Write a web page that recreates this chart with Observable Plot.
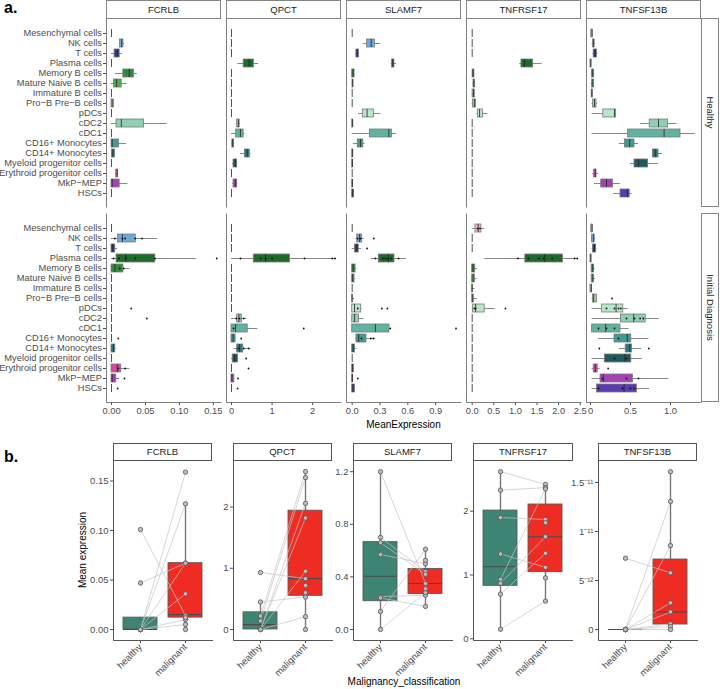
<!DOCTYPE html>
<html><head><meta charset="utf-8">
<script src="https://cdn.jsdelivr.net/npm/d3@7"></script>
<script src="https://cdn.jsdelivr.net/npm/@observablehq/plot@0.6"></script>
<style>
body{margin:0;background:#fff;font-family:"Liberation Sans",Arial,sans-serif;}
#root{position:relative;width:720px;height:689px;overflow:hidden;background:#fff;}
.strip{position:absolute;box-sizing:border-box;border:1px solid #858585;background:#fff;font-size:9.5px;color:#1a1a1a;display:flex;align-items:center;justify-content:center;white-space:nowrap;}
.vtxt{transform:rotate(90deg);white-space:nowrap;}
.lbl{position:absolute;font-weight:bold;font-size:16px;color:#000;}
.title{position:absolute;font-size:10px;color:#000;white-space:nowrap;}
</style></head>
<body><div id="root"></div>
<script>
// ---------------- DATA ----------------
const cells = ["Mesenchymal cells","NK cells","T cells","Plasma cells","Memory B cells","Mature Naive B cells","Immature B cells","Pro−B Pre−B cells","pDCs","cDC2","cDC1","CD16+ Monocytes","CD14+ Monocytes","Myeloid progenitor cells","Erythroid progenitor cells","MkP−MEP","HSCs"];
const cellColors = ["#f2b5cc","#6fa8dc","#27408b","#1d6b2a","#2e8b3e","#45b24f","#7cc576","#95d98f","#b9e5c9","#8fcfb3","#5fb3a0","#3f9b94","#2c7b7c","#1f5a5e","#d9489f","#a640b5","#5a3bb0"];
const genes = ["FCRLB","QPCT","SLAMF7","TNFRSF17","TNFSF13B"];
const conditions = ["Healthy","Initial Diagnosis"];

// box statistics per cell type: [lower whisker, q1, median, q3, upper whisker]
const Z = [0,0,0,0,0];
const fcrlbHealthy = [Z,[0.012,0.0125,0.015,0.0175,0.019],[0,0.0045,0.0085,0.012,0.016],Z,[0.006,0.0174,0.026,0.033,0.038],[0,0.0035,0.0074,0.015,0.023],Z,[0,0,0.001,0.0035,0.0035],Z,[0,0.0074,0.0144,0.048,0.082],Z,[0,0,0.001,0.011,0.022],[0,0.0005,0.002,0.005,0.006],Z,[0.006,0.007,0.0085,0.009,0.0095],[0,0,0.001,0.012,0.024],Z];
const fcrlbInitial = [Z,[0,0.0094,0.016,0.0357,0.068],[0,0,0.002,0.0055,0.0088],[0,0.0074,0.021,0.0645,0.125],[0,0,0.005,0.0175,0.027],Z,Z,Z,Z,Z,Z,Z,[0,0,0.003,0.0055,0.007],Z,[0,0,0.0085,0.0143,0.027],[0,0,0.001,0.007,0.012],Z];
const qpctHealthy = [Z,Z,Z,[0.155,0.30,0.43,0.55,0.67],Z,Z,Z,Z,Z,[0.12,0.14,0.17,0.2,0.22],[0,0.115,0.22,0.30,0.33],[0.01,0.02,0.03,0.06,0.07],[0.22,0.33,0.39,0.45,0.48],[0.03,0.05,0.1,0.14,0.15],Z,[0.03,0.05,0.1,0.14,0.15],Z];
const qpctInitial = [Z,Z,Z,[0,0.55,0.84,1.44,2.59],Z,Z,Z,Z,Z,[0,0.14,0.18,0.26,0.38],[0,0,0.10,0.40,0.65],[0,0,0.04,0.1,0.12],[0.06,0.14,0.20,0.29,0.48],[0,0.03,0.08,0.16,0.18],Z,[0,0,0.01,0.07,0.08],Z];
const slamf7Healthy = [Z,[0.12,0.16,0.205,0.245,0.305],[0.04,0.045,0.06,0.07,0.075],[0.42,0.43,0.44,0.455,0.48],[0,0,0.01,0.025,0.025],[0,0.003,0.006,0.012,0.015],Z,Z,[0.07,0.115,0.16,0.235,0.31],[0,0,0.005,0.01,0.012],[0,0.19,0.395,0.43,0.48],[0.013,0.06,0.09,0.12,0.14],[0,0,0.005,0.008,0.01],[0,0,0.003,0.005,0.005],Z,[0,0,0.003,0.005,0.005],[0,0,0.005,0.02,0.02]];
const slamf7Initial = [Z,[0.04,0.054,0.08,0.108,0.13],[0,0.03,0.05,0.07,0.1],[0.208,0.287,0.39,0.456,0.586],[0,0,0.01,0.036,0.048],[0,0,0.005,0.025,0.036],Z,[0,0,0,0.003,0.025],[0,0,0.025,0.097,0.108],[0,0,0.025,0.072,0.126],[0,0,0.25,0.402,0.41],[0.04,0.046,0.07,0.154,0.25],[0,0,0.01,0.03,0.05],Z,[0,0,0.003,0.018,0.025],[0,0,0.002,0.01,0.01],[0,0,0.008,0.03,0.036]];
const tnfrsf17Healthy = [Z,Z,Z,[1.10,1.14,1.21,1.41,1.62],[0,0.01,0.02,0.05,0.06],[0.02,0.03,0.04,0.06,0.07],[0,0.01,0.03,0.06,0.07],[0,0.015,0.05,0.09,0.1],[0.11,0.13,0.17,0.25,0.36],Z,Z,Z,Z,Z,Z,Z,Z];
const tnfrsf17Initial = [[0,0.076,0.14,0.215,0.29],Z,Z,[0.29,1.23,1.68,2.1,2.43],[0,0,0.02,0.07,0.12],[0,0,0.02,0.06,0.11],[0,0,0,0.01,0.07],[0,0,0.01,0.035,0.12],[0,0.015,0.08,0.29,0.53],Z,Z,Z,Z,Z,Z,Z,Z];
const tnfsf13bHealthy = [[0,0.01,0.02,0.025,0.03],[0.02,0.03,0.04,0.05,0.06],[0.03,0.04,0.06,0.08,0.09],[0,0,0.005,0.01,0.01],[0.01,0.02,0.03,0.04,0.05],[0.01,0.02,0.03,0.04,0.045],[0.01,0.015,0.02,0.025,0.03],[0.02,0.03,0.05,0.075,0.09],[0.02,0.16,0.30,0.32,0.32],[0.625,0.74,0.85,0.97,1.08],[0.02,0.47,0.92,1.125,1.31],[0.36,0.43,0.49,0.55,0.6],[0.78,0.78,0.81,0.85,0.9],[0.5,0.55,0.60,0.72,0.85],[0.03,0.045,0.06,0.075,0.1],[0.05,0.134,0.2,0.28,0.375],[0.29,0.375,0.46,0.49,0.52]];
const tnfsf13bInitial = [[0,0.01,0.02,0.025,0.03],[0.015,0.02,0.04,0.05,0.06],[0.02,0.03,0.05,0.07,0.08],[0,0,0.005,0.01,0.01],[0.01,0.015,0.03,0.04,0.06],[0.01,0.015,0.03,0.04,0.06],[0,0,0.01,0.015,0.02],[0.02,0.03,0.04,0.08,0.08],[0.02,0.146,0.32,0.41,0.47],[0.02,0.38,0.54,0.69,0.86],[0.02,0.02,0.19,0.375,0.48],[0.1,0.30,0.46,0.51,0.73],[0.36,0.44,0.49,0.52,0.64],[0.02,0.18,0.43,0.51,0.65],[0.02,0.04,0.06,0.09,0.12],[0.02,0.125,0.16,0.53,0.98],[0.02,0.08,0.42,0.58,0.74]];

// individual sample points (Initial Diagnosis): [cell, value]
const fcrlbInitialPts = [["NK cells",0.005],["NK cells",0.016],["NK cells",0.02],["NK cells",0.035],["NK cells",0.045],["Plasma cells",0.003],["Plasma cells",0.011],["Plasma cells",0.021],["Plasma cells",0.035],["Plasma cells",0.064],["Plasma cells",0.155],["Memory B cells",0.012],["Memory B cells",0.018],["pDCs",0.029],["cDC2",0.052],["CD16+ Monocytes",0.010],["Erythroid progenitor cells",0.01],["Erythroid progenitor cells",0.02],["MkP−MEP",0.019],["HSCs",0.009]];
const qpctInitialPts = [["Plasma cells",0.22],["Plasma cells",0.72],["Plasma cells",0.84],["Plasma cells",1.0],["Plasma cells",1.8],["Plasma cells",2.48],["Plasma cells",2.55],["cDC2",0.12],["cDC2",0.2],["cDC2",0.3],["cDC1",0.05],["cDC1",1.78],["CD16+ Monocytes",0.24],["CD14+ Monocytes",0.17],["CD14+ Monocytes",0.3],["CD14+ Monocytes",0.42],["Myeloid progenitor cells",0.36],["Erythroid progenitor cells",0.42],["MkP−MEP",0.16],["HSCs",0.15]];
const slamf7InitialPts = [["NK cells",0.06],["NK cells",0.09],["NK cells",0.233],["T cells",0.16],["Plasma cells",0.25],["Plasma cells",0.33],["Plasma cells",0.36],["Plasma cells",0.39],["Plasma cells",0.42],["Plasma cells",0.5],["pDCs",0.06],["pDCs",0.32],["pDCs",0.38],["cDC1",0.41],["cDC1",1.12],["CD16+ Monocytes",0.1],["CD16+ Monocytes",0.2],["CD16+ Monocytes",0.23],["MkP−MEP",0.06]];
const tnfrsf17InitialPts = [["Plasma cells",1.06],["Plasma cells",1.3],["Plasma cells",1.55],["Plasma cells",1.65],["Plasma cells",1.85],["Plasma cells",2.37],["Plasma cells",2.43],["pDCs",0.05],["pDCs",0.08],["pDCs",0.77],["Mesenchymal cells",0.12],["Mesenchymal cells",0.18]];
const tnfsf13bInitialPts = [["Pro−B Pre−B cells",0.27],["pDCs",0.2],["pDCs",0.3],["pDCs",0.35],["pDCs",0.38],["cDC2",0.45],["cDC2",0.55],["cDC2",0.62],["cDC2",0.66],["cDC1",0.1],["cDC1",0.2],["cDC1",0.3],["CD16+ Monocytes",0.35],["CD14+ Monocytes",0.11],["CD14+ Monocytes",0.73],["Myeloid progenitor cells",0.3],["Myeloid progenitor cells",0.45],["Erythroid progenitor cells",0.22],["MkP−MEP",0.15],["MkP−MEP",0.45],["MkP−MEP",0.6],["HSCs",0.1],["HSCs",0.4],["HSCs",0.5],["HSCs",0.55]];

// panel a axis ticks
const xTicksA = [[0,0.05,0.1,0.15],[0,1,2],[0,0.3,0.6,0.9],[0,0.5,1,1.5,2,2.5],[0,0.5,1]];
const xTickLabelsA = [["0.00","0.05","0.10","0.15"],["0","1","2"],["0.0","0.3","0.6","0.9"],["0.0","0.5","1.0","1.5","2.0","2.5"],["0","0.5","1.0"]];
const xDomainA = [[-0.0074,0.162],[-0.123,2.71],[-0.0615,1.179],[-0.132,2.53],[-0.05,1.3875]];

// panel b: paired samples (index = patient), null = missing
const groups = ["healthy","malignant"];
const groupColors = ["#3e8475","#ee2c24"];
const fcrlbHealthyB = [0.101,0.047,0,0,0,0,0,0,null,null];
const fcrlbMalignantB = [0.014,0.067,0.159,0.127,0.036,0.010,0.005,0.067,0.012,0];
const qpctHealthyB = [0.93,0.45,0.22,0.14,0,0,0,0,null,null,null];
const qpctMalignantB = [0.83,0.53,2.58,2.48,2.06,1.82,0.95,0.21,0.72,0,0.6];
const slamf7HealthyB = [1.2,0.70,0.66,0.57,0.25,0.24,0.137,0.0,null,null];
const slamf7MalignantB = [0.35,0.44,0.42,0.50,0.26,0.175,0.61,0.28,0.31,0.525];
const tnfrsf17HealthyB = [2.62,2.33,1.9,1.33,0.93,0.87,0.7,0.15,null,null];
const tnfrsf17MalignantB = [2.42,2.37,1.87,1.12,2.35,1.6,1.34,0.59,1.82,0.955];
const tnfsf13bHealthyB = [7.27e-12,0,0,0,0,0,0,0,null,null];
const tnfsf13bMalignantB = [5.78e-12,1.306e-11,8.57e-12,2.72e-12,1.77e-12,0.58e-12,0.3e-12,0,1.61e-11,1.8e-12];
// box statistics [lo,q1,med,q3,hi] for healthy, malignant
const fcrlbBoxB = [[0,0,0,0.012,0.012],[0,0.012,0.015,0.067,0.127]];
const qpctBoxB = [[0,0,0.08,0.28,0.45],[0,0.55,0.83,1.94,2.58]];
const slamf7BoxB = [[0,0.215,0.405,0.664,1.2],[0.175,0.27,0.35,0.46,0.61]];
const tnfrsf17BoxB = [[0.15,0.83,1.13,2.01,2.62],[0.59,1.044,1.6,2.105,2.42]];
const tnfsf13bBoxB = [[0,0,0,0,0],[0,0.51e-12,1.8e-12,7.14e-12,1.61e-11]];
const yTicksB = [[0,0.05,0.1,0.15],[0,1,2],[0,0.4,0.8,1.2],[0,1,2],[0,5e-12,1e-11,1.5e-11]];
const yTickLabelsB = [["0.00","0.05","0.10","0.15"],["0","1","2"],["0.0","0.4","0.8","1.2"],["0","1","2"],["0","5⁻¹²","1⁻¹¹","1.5⁻¹¹"]];
const yDomainB = [[-0.0111,0.1707],[-0.18,2.76],[-0.084,1.285],[-0.027,2.795],[-1.12e-12,1.724e-11]];

// ---------------- LAYOUT ----------------
const FONT = '"Liberation Sans", Arial, sans-serif';
const root = document.getElementById("root");
function add(el, css){ Object.assign(el.style, css); root.appendChild(el); return el; }
function div(cls, text, css){ const d=document.createElement("div"); d.className=cls; if(text!=null) d.textContent=text; return add(d, css); }

const boxA = [[fcrlbHealthy,fcrlbInitial],[qpctHealthy,qpctInitial],[slamf7Healthy,slamf7Initial],[tnfrsf17Healthy,tnfrsf17Initial],[tnfsf13bHealthy,tnfsf13bInitial]];
const ptsA = [fcrlbInitialPts,qpctInitialPts,slamf7InitialPts,tnfrsf17InitialPts,tnfsf13bInitialPts];

const colL = [106,226,346,466,586];
const pW = 115, pH = 189;
const pTop = [18.4, 212.6];

div("lbl","a.",{left:"4px",top:"-1px"});
genes.forEach((g,gi)=>{
  div("strip", g, {left:colL[gi]+"px", top:"0px", width:pW+"px", height:"18.6px"});
  conditions.forEach((c,ci)=>{
    const first = gi===0, bottom = ci===1;
    const ml = first ? 106 : 6, mr = 6, mt = 1, mb = bottom ? 22 : 1;
    const rows = cells.map((cell,i)=>{const b=boxA[gi][ci][i]; return {cell, lo:b[0], q1:b[1], med:b[2], q3:b[3], hi:b[4]};});
    const pts = bottom ? ptsA[gi].map(([cell,v])=>({cell,v})) : [];
    const dash = bottom ? `0,${pW+pH},${pW+pH}` : `0,${2*pW+pH},${pH}`;
    const svg = Plot.plot({
      width: ml+pW+mr, height: mt+pH+mb,
      marginLeft: ml, marginRight: mr, marginTop: mt, marginBottom: mb,
      style: {fontFamily: FONT, fontSize: "9.3px", color: "#4d4d4d", background: "transparent", overflow: "visible"},
      x: {domain: xDomainA[gi], axis: bottom ? "bottom" : null, ticks: xTicksA[gi], tickFormat: d => xTickLabelsA[gi][xTicksA[gi].indexOf(d)], tickSize: 3, tickPadding: 2, label: null},
      y: {domain: cells, paddingInner: 0.25, paddingOuter: 0.225, axis: first ? "left" : null, tickSize: 3, tickPadding: 1.5, label: null},
      color: {domain: cells, range: cellColors},
      marks: [
        Plot.frame({stroke: "#6e6e6e", strokeWidth: 0.9, strokeDasharray: dash}),
        Plot.ruleY(rows, {y: "cell", x1: "lo", x2: "hi", stroke: "#555", strokeWidth: 0.7}),
        Plot.barX(rows, {y: "cell", x1: "q1", x2: "q3", fill: "cell", stroke: "#7a7a7a", strokeWidth: 0.8}),
        Plot.tickX(rows, {y: "cell", x: "med", stroke: "#222", strokeWidth: 0.8}),
        Plot.dot(pts, {y: "cell", x: "v", r: 0.9, fill: "#111", stroke: null})
      ]
    });
    add(svg, {position:"absolute", left:(colL[gi]-ml)+"px", top:(pTop[ci]-mt)+"px"});
  });
});
div("strip", null, {left:"701px", top:"18.4px", width:"18px", height:"189px"}).appendChild(Object.assign(document.createElement("span"),{className:"vtxt",textContent:"Healthy"}));
div("strip", null, {left:"701px", top:"212.6px", width:"18px", height:"189px"}).appendChild(Object.assign(document.createElement("span"),{className:"vtxt",textContent:"Initial Diagnosis"}));
div("title","MeanExpression",{left:"403.5px", top:"419px", transform:"translateX(-50%)"});

// ---------------- PANEL B ----------------
div("lbl","b.",{left:"4px",top:"448px"});
const healthyB = [fcrlbHealthyB,qpctHealthyB,slamf7HealthyB,tnfrsf17HealthyB,tnfsf13bHealthyB];
const malignantB = [fcrlbMalignantB,qpctMalignantB,slamf7MalignantB,tnfrsf17MalignantB,tnfsf13bMalignantB];
const boxB = [fcrlbBoxB,qpctBoxB,slamf7BoxB,tnfrsf17BoxB,tnfsf13bBoxB];
const colLB = [112.7,232.7,352.7,473.3,597.7];
const bW = 99.5, bH = 180, bTop = 460;
genes.forEach((g,gi)=>{
  div("strip", g, {left:colLB[gi]+"px", top:"442.5px", width:bW+"px", height:"18px", borderColor:"#555"});
  const ml = 32, mr = 6, mt = 1, mb = 48;
  const rows = groups.map((grp,k)=>{const b=boxB[gi][k]; return {group:grp, lo:b[0], q1:b[1], med:b[2], q3:b[3], hi:b[4]};});
  const pairs = healthyB[gi].map((h,i)=>({g1:groups[0], g2:groups[1], h, m:malignantB[gi][i]})).filter(p=>p.h!=null && p.m!=null);
  const pts = [...healthyB[gi].filter(v=>v!=null).map(v=>({group:groups[0], v})), ...malignantB[gi].filter(v=>v!=null).map(v=>({group:groups[1], v}))];
  const svg = Plot.plot({
    width: ml+bW+mr, height: mt+bH+mb,
    marginLeft: ml, marginRight: mr, marginTop: mt, marginBottom: mb,
    style: {fontFamily: FONT, fontSize: "9.5px", color: "#4d4d4d", background: "transparent", overflow: "visible"},
    x: {domain: groups, paddingInner: 0.25, paddingOuter: 0.225, tickRotate: -45, tickSize: 3, tickPadding: 2, label: null},
    y: {domain: yDomainB[gi], ticks: yTicksB[gi], tickFormat: d => yTickLabelsB[gi][yTicksB[gi].indexOf(d)], tickSize: 3, tickPadding: 2, label: null},
    color: {domain: groups, range: groupColors},
    marks: [
      Plot.frame({stroke: "#555", strokeWidth: 1, strokeDasharray: `0,${bW+bH},${bW+bH}`}),
      Plot.ruleX(rows, {x: "group", y1: "lo", y2: "hi", stroke: "#777", strokeWidth: 1.4}),
      Plot.barY(rows, {x: "group", y1: "q1", y2: "q3", fill: "group", stroke: "#5a5a5a", strokeWidth: 0.9}),
      Plot.tickY(rows, {x: "group", y: "med", stroke: "#4a4a4a", strokeWidth: 1.1}),
      Plot.link(pairs, {x1: "g1", x2: "g2", y1: "h", y2: "m", stroke: "#c4c4c4", strokeWidth: 0.7}),
      Plot.dot(pts, {x: "group", y: "v", r: 2.2, fill: "#bdbdbd", stroke: "#555", strokeWidth: 0.8})
    ]
  });
  add(svg, {position:"absolute", left:(colLB[gi]-ml)+"px", top:(bTop-mt)+"px"});
});
div("title","Mean expression",{left:"82px", top:"550px", transform:"translate(-50%,-50%) rotate(-90deg)"});
div("title","Malignancy_classification",{left:"404px", top:"676px", transform:"translateX(-50%)"});
</script>
</body></html>
